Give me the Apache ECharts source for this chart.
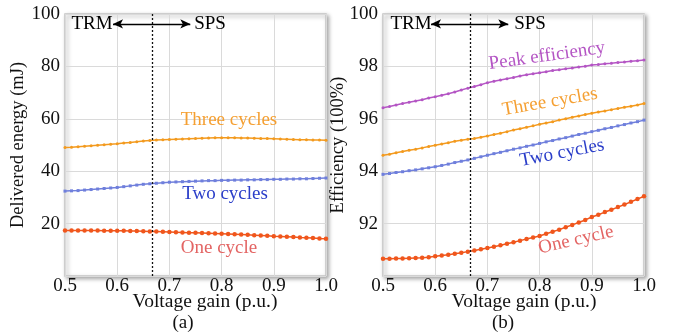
<!DOCTYPE html>
<html>
<head>
<meta charset="utf-8">
<script src="https://cdn.jsdelivr.net/npm/echarts@6/dist/echarts.min.js"></script>
<style>
  html, body { margin: 0; padding: 0; background: #fff; }
  #chart { width: 692px; height: 334px; }
</style>
</head>
<body>
<div id="chart"></div>
<script>
// Voltage gain sweep (p.u.)
const voltageGain = [
  0.5, 0.5125, 0.525, 0.5375, 0.55, 0.5625, 0.575, 0.5875, 0.6, 0.6125,
  0.625, 0.6375, 0.65, 0.6625, 0.675, 0.6875, 0.7, 0.7125, 0.725, 0.7375,
  0.75, 0.7625, 0.775, 0.7875, 0.8, 0.8125, 0.825, 0.8375, 0.85, 0.8625,
  0.875, 0.8875, 0.9, 0.9125, 0.925, 0.9375, 0.95, 0.9625, 0.975, 0.9875, 1.0
];

// (a) Delivered energy, mJ
const energyThree = [
  49.0, 49.1, 49.3, 49.5, 49.7, 49.9, 50.1, 50.3, 50.5, 50.8,
  51.0, 51.2, 51.5, 51.7, 51.9, 52.0, 52.1, 52.2, 52.3, 52.4,
  52.5, 52.6, 52.7, 52.8, 52.8, 52.8, 52.8, 52.7, 52.7, 52.6,
  52.5, 52.5, 52.4, 52.3, 52.2, 52.1, 52.0, 52.0, 51.9, 51.9, 51.8
];
const energyTwo = [
  32.4, 32.5, 32.6, 32.8, 33.0, 33.2, 33.4, 33.6, 33.8, 34.1,
  34.4, 34.7, 35.0, 35.2, 35.4, 35.6, 35.8, 35.9, 36.0, 36.1,
  36.2, 36.3, 36.4, 36.4, 36.5, 36.5, 36.6, 36.6, 36.7, 36.7,
  36.8, 36.8, 36.9, 36.9, 37.0, 37.0, 37.1, 37.1, 37.2, 37.3, 37.4
];
const energyOne = [
  17.4, 17.4, 17.4, 17.4, 17.4, 17.4, 17.3, 17.3, 17.3, 17.3,
  17.2, 17.2, 17.1, 17.0, 17.0, 16.9, 16.8, 16.7, 16.6, 16.5,
  16.5, 16.4, 16.3, 16.2, 16.1, 16.0, 15.9, 15.8, 15.7, 15.6,
  15.5, 15.4, 15.2, 15.1, 15.0, 14.9, 14.7, 14.6, 14.5, 14.3, 14.2
];

// (b) Efficiency, %
const effPeak = [
  96.42, 96.47, 96.53, 96.58, 96.63, 96.68, 96.73, 96.79, 96.84, 96.90,
  96.96, 97.02, 97.10, 97.17, 97.23, 97.30, 97.38, 97.43, 97.48, 97.53,
  97.58, 97.63, 97.68, 97.72, 97.76, 97.80, 97.84, 97.87, 97.91, 97.94,
  97.98, 98.01, 98.05, 98.07, 98.10, 98.12, 98.15, 98.17, 98.20, 98.22, 98.24
];
const effThree = [
  94.61, 94.65, 94.70, 94.75, 94.80, 94.84, 94.89, 94.94, 94.99, 95.04,
  95.09, 95.14, 95.18, 95.22, 95.25, 95.30, 95.34, 95.40, 95.45, 95.51,
  95.57, 95.62, 95.68, 95.73, 95.79, 95.84, 95.89, 95.95, 96.00, 96.06,
  96.11, 96.16, 96.21, 96.26, 96.30, 96.35, 96.39, 96.44, 96.48, 96.53, 96.58
];
const effTwo = [
  93.88, 93.91, 93.95, 93.98, 94.02, 94.05, 94.09, 94.13, 94.17, 94.22,
  94.27, 94.33, 94.38, 94.43, 94.49, 94.55, 94.61, 94.67, 94.72, 94.78,
  94.84, 94.89, 94.95, 95.00, 95.06, 95.12, 95.17, 95.23, 95.28, 95.34,
  95.40, 95.45, 95.51, 95.56, 95.62, 95.67, 95.73, 95.78, 95.84, 95.89, 95.95
];
const effOne = [
  90.66, 90.66, 90.67, 90.67, 90.68, 90.69, 90.70, 90.72, 90.75, 90.78,
  90.81, 90.85, 90.89, 90.93, 90.97, 91.02, 91.07, 91.12, 91.17, 91.23,
  91.29, 91.35, 91.41, 91.47, 91.53, 91.61, 91.69, 91.77, 91.86, 91.95,
  92.04, 92.14, 92.25, 92.34, 92.44, 92.53, 92.63, 92.73, 92.83, 92.94, 93.04
];

// Axis ticks
const xTicks = [0.5, 0.6, 0.7, 0.8, 0.9, 1.0];
const energyTicks = [0, 20, 40, 60, 80, 100];
const effTicks = [90, 92, 94, 96, 98, 100];

// TRM / SPS boundary and the double arrow span
const modeBoundary = 2 / 3;
const arrowSpan = [0.592, 0.74];

const SERIF = '"Liberation Serif", "DejaVu Serif", serif';
const C_THREE = '#f39a1e';
const C_TWO = '#6f7fdc';
const C_ONE = '#f0561c';
const C_PEAK = '#b455c4';

const pair = ys => voltageGain.map((x, i) => [x, ys[i]]);

const chart = echarts.init(document.getElementById('chart'), null, { renderer: 'canvas' });

function xAxisFor(gridIndex) {
  return {
    type: 'value', gridIndex,
    min: xTicks[0], max: xTicks[xTicks.length - 1], interval: 0.1,
    axisLine: { show: false }, axisTick: { show: false },
    axisLabel: { fontFamily: SERIF, fontSize: 19, color: '#111', margin: 1,
      formatter: v => v.toFixed(1) },
    splitLine: { show: true, lineStyle: { color: '#dadada', width: 1 } }
  };
}

function yAxisFor(gridIndex, ticks, name, gap) {
  return {
    type: 'value', gridIndex,
    min: ticks[0], max: ticks[ticks.length - 1], interval: ticks[1] - ticks[0],
    name, nameLocation: 'middle', nameGap: gap, nameMoveOverlap: false,
    nameTextStyle: { fontFamily: SERIF, fontSize: 18.5, color: '#111' },
    axisLine: { show: false }, axisTick: { show: false },
    axisLabel: { fontFamily: SERIF, fontSize: 19, color: '#111', margin: 5,
      showMinLabel: false },
    splitLine: { show: true, lineStyle: { color: '#dadada', width: 1 } }
  };
}

function curve(name, xi, ys, color, symbol, size, width) {
  return {
    name, type: 'line', xAxisIndex: xi, yAxisIndex: xi,
    data: pair(ys), symbol, symbolSize: size, showSymbol: true,
    lineStyle: { color, width }, itemStyle: { color },
    animation: false, z: 3
  };
}

function modeMarks(xi, yRange, arrowY) {
  return {
    type: 'line', xAxisIndex: xi, yAxisIndex: xi, data: [], animation: false,
    markLine: {
      silent: true, animation: false, z: 5,
      label: { show: false },
      data: [
        [{ coord: [modeBoundary, yRange[0]], symbol: 'none' },
         { coord: [modeBoundary, yRange[1]], symbol: 'none' }],
        [{ coord: [arrowSpan[0], arrowY], symbol: 'arrow', symbolSize: [7, 10],
           lineStyle: { type: 'solid', width: 1.3, color: '#000' } },
         { coord: [arrowSpan[1], arrowY], symbol: 'arrow', symbolSize: [7, 10] }]
      ],
      lineStyle: { type: [2, 2], color: '#111', width: 1.3 }
    }
  };
}

const gridStyle = {
  show: true, backgroundColor: '#fff', borderColor: '#c4c4c4', borderWidth: 1.5,
  shadowColor: 'rgba(0,0,0,0.35)', shadowBlur: 4, shadowOffsetX: 2, shadowOffsetY: 2
};

function txt(text, x, y, color, deg, size) {
  return {
    type: 'text', x, y, rotation: (deg || 0) * Math.PI / 180, z: 10,
    style: { text, fill: color, font: (size || 19) + 'px ' + SERIF,
      textAlign: 'center', textVerticalAlign: 'middle' }
  };
}

chart.setOption({
  backgroundColor: '#fff',
  animation: false,
  grid: [
    Object.assign({ left: 65, right: 366, top: 14, bottom: 58 }, gridStyle),
    Object.assign({ left: 383, right: 48, top: 14, bottom: 58 }, gridStyle)
  ],
  xAxis: [xAxisFor(0), xAxisFor(1)],
  yAxis: [
    yAxisFor(0, energyTicks, 'Delivered energy (mJ)', 37),
    yAxisFor(1, effTicks, 'Efficiency (100%)', 35)
  ],
  series: [
    curve('Three cycles', 0, energyThree, C_THREE, 'circle', 3, 1.5),
    curve('Two cycles', 0, energyTwo, C_TWO, 'rect', 3, 1.5),
    curve('One cycle', 0, energyOne, C_ONE, 'circle', 4.5, 1.5),
    modeMarks(0, [0, 100], 96.2),
    curve('Peak efficiency', 1, effPeak, C_PEAK, 'circle', 3, 1.5),
    curve('Three cycles', 1, effThree, C_THREE, 'circle', 3, 1.5),
    curve('Two cycles', 1, effTwo, C_TWO, 'rect', 3, 1.5),
    curve('One cycle', 1, effOne, C_ONE, 'circle', 4.5, 1.5),
    modeMarks(1, [90, 100], 99.62)
  ],
  graphic: [
    txt('TRM', 92, 24, '#000', 0, 19),
    txt('SPS', 210, 24, '#000', 0, 19),
    txt('TRM', 411, 24, '#000', 0, 19),
    txt('SPS', 530, 24, '#000', 0, 19),
    txt('Three cycles', 229, 120, '#f5a033', 0, 19),
    txt('Two cycles', 225, 194, '#2b3ec9', 0, 19),
    txt('One cycle', 219, 248, '#e36463', 0, 19),
    txt('Peak efficiency', 547, 56, '#b455c4', 8, 19),
    txt('Three cycles', 550, 102, '#f5a033', 10, 19),
    txt('Two cycles', 562, 153, '#2b3ec9', 11, 19),
    txt('One cycle', 576, 240, '#e36463', 13, 19),
    txt('Voltage gain (p.u.)', 205, 302, '#111', 0, 19.5),
    txt('Voltage gain (p.u.)', 524, 302, '#111', 0, 19.5),
    txt('(a)', 183, 323, '#111', 0, 19),
    txt('(b)', 503, 323, '#111', 0, 19)
  ]
});
</script>
</body>
</html>
